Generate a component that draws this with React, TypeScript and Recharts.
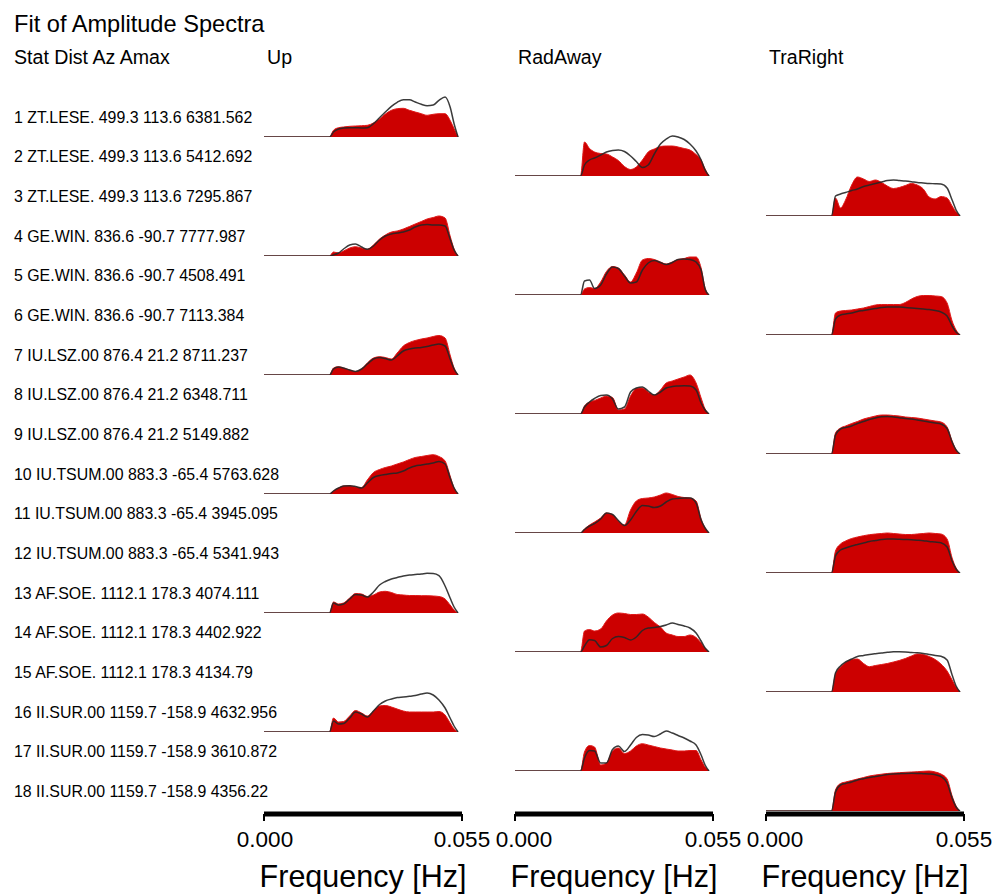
import React from 'react'
import { ComposedChart, Area, Line, XAxis, YAxis } from 'recharts'

const FONT = '"Liberation Sans", Arial, Helvetica, sans-serif'

// frequency grid (Hz) shared by every spectrum
const FREQS = [0, 0.0182, 0.0193, 0.0207, 0.0221, 0.0238, 0.0254, 0.0271, 0.0287, 0.0304, 0.0321, 0.0337, 0.0354,
    0.037, 0.0387, 0.0404, 0.042, 0.0437, 0.0453, 0.047, 0.0486, 0.0503, 0.0517, 0.0528, 0.0539]

const X_TICKS = [0, 0.055]
const COMPONENTS = ['Up', 'RadAway', 'TraRight']

const STATIONS = [
    '1 ZT.LESE. 499.3 113.6 6381.562',
    '2 ZT.LESE. 499.3 113.6 5412.692',
    '3 ZT.LESE. 499.3 113.6 7295.867',
    '4 GE.WIN. 836.6 -90.7 7777.987',
    '5 GE.WIN. 836.6 -90.7 4508.491',
    '6 GE.WIN. 836.6 -90.7 7113.384',
    '7 IU.LSZ.00 876.4 21.2 8711.237',
    '8 IU.LSZ.00 876.4 21.2 6348.711',
    '9 IU.LSZ.00 876.4 21.2 5149.882',
    '10 IU.TSUM.00 883.3 -65.4 5763.628',
    '11 IU.TSUM.00 883.3 -65.4 3945.095',
    '12 IU.TSUM.00 883.3 -65.4 5341.943',
    '13 AF.SOE. 1112.1 178.3 4074.111',
    '14 AF.SOE. 1112.1 178.3 4402.922',
    '15 AF.SOE. 1112.1 178.3 4134.79',
    '16 II.SUR.00 1159.7 -158.9 4632.956',
    '17 II.SUR.00 1159.7 -158.9 3610.872',
    '18 II.SUR.00 1159.7 -158.9 4356.22',
]

// observed (red) and synthetic (black) amplitudes, relative units
const obs01 = [0, 0, 6.7, 9.3, 10, 10.7, 11, 11.3, 11.7, 14, 18, 23, 26.7, 28.3, 28.7, 26.7, 25, 23.3, 21.7, 22.7, 23.3, 23.3, 16.7, 8.3, 0]
const syn01 = [0, 0, 5, 8, 9, 9.3, 9.3, 9, 9.3, 13.3, 19.3, 25, 30.7, 34.7, 37.3, 37.3, 35, 32.7, 31.3, 32, 36.7, 40, 30, 13.3, 0]
const obs02 = [0, 0, 34, 27.5, 24, 22.5, 22, 19, 15.5, 9.5, 6.5, 9, 16, 24, 27, 29.5, 30, 30, 29, 27.5, 26, 21.5, 16, 7, 0]
const syn02 = [0, 0, 11, 16, 18, 21, 24, 25.5, 26, 24.5, 20, 14.5, 8.5, 11, 22, 32, 37, 40, 39, 36.5, 32, 25, 16, 6, 0]
const obs03 = [0, 0, 18, 8, 16, 31, 39, 37, 34.5, 36, 33.5, 30, 27.5, 28.5, 30.5, 32.5, 31, 27, 19, 17, 19.5, 18, 10, 4, 0]
const syn03 = [0, 0, 20, 22, 23.5, 25.5, 27, 29.5, 31, 32.5, 34, 35.5, 36, 35.5, 35, 34.3, 33.5, 33, 32.5, 32.3, 32, 28, 16, 6, 0]
const obs04 = [0, 0, 4, 3, 5, 8, 9.3, 8, 6.7, 11, 17, 21, 24, 25, 27, 29.5, 32, 34.5, 37, 38.5, 40, 38, 20, 7, 0]
const syn04 = [0, 0, 1, 3, 7, 11, 12, 9, 6.7, 10, 16, 20, 22, 23, 24, 26, 29, 31, 31.5, 31, 31, 30, 17, 6, 0]
const obs05 = [0, 0, 6, 7.5, 6.5, 13, 23.5, 28.5, 27, 20, 13, 22, 35, 36.5, 35.5, 33, 31, 33, 35.5, 36.5, 38, 38, 27, 7, 0]
const syn05 = [0, 0, 14, 15, 6.5, 10, 21, 28, 26.5, 19, 12, 13, 25, 32, 34.5, 32.5, 30.5, 32.5, 35.5, 36, 35.5, 33, 25, 6, 0]
const obs06 = [0, 0, 22, 24, 24.5, 25, 26, 27, 28.5, 30, 30.5, 30.5, 30.5, 30.5, 32.5, 36, 38.5, 39.5, 39.5, 39, 38.5, 32, 14, 5, 0]
const syn06 = [0, 0, 16, 20, 21, 22, 23.5, 24.5, 25.5, 26.5, 27.5, 28, 28, 28, 27.5, 27, 26.5, 26, 25.5, 24.5, 23, 19, 9, 3, 0]
const obs07 = [0, 0, 7, 8.3, 7, 5, 3.5, 6, 12, 17, 18.3, 17.5, 16, 22, 29, 32.5, 34.5, 36, 37, 38.5, 39.5, 37, 20, 7, 0]
const syn07 = [0, 0, 6, 8, 7, 5, 3.5, 6, 11, 16, 17.5, 16.5, 15, 19, 24, 26, 27, 27.5, 28.5, 30, 31, 29, 16, 6, 0]
const obs08 = [0, 0, 8, 12, 13.5, 16, 18, 16.5, 4, 5, 18, 25.5, 26, 22, 19, 24, 31, 33, 35, 37, 39, 31, 16, 5, 0]
const syn08 = [0, 0, 7, 12, 15.5, 18.5, 19, 15, 5, 7, 22, 26, 27, 23, 19, 22, 26, 27.5, 28, 28.3, 28, 24, 11, 4, 0]
const obs09 = [0, 0, 21, 26, 28, 30.5, 32.5, 35, 36.5, 38, 39, 39, 38.5, 38, 37, 36.5, 36, 35, 34, 33, 32, 27, 13, 4, 0]
const syn09 = [0, 0, 19, 25, 26.5, 28, 30.5, 32.5, 34.5, 36, 37.3, 37.5, 37, 36.3, 35.5, 35, 34, 33, 32, 31, 30, 25.5, 12, 4, 0]
const obs10 = [0, 0, 3, 6, 8, 8.3, 7, 6.5, 14, 21.5, 24.5, 26.5, 28, 30, 32, 34.5, 36.5, 37.5, 38.5, 39.3, 37.5, 33, 18, 6, 0]
const syn10 = [0, 0, 3, 6, 8, 8.3, 7.5, 6, 11, 16.5, 18.5, 19.5, 20.5, 21, 23, 26, 28, 29, 30, 31, 32.5, 30, 16, 6, 0]
const obs11 = [0, 0, 4, 8, 11, 15, 20, 18.5, 12, 8, 23, 32, 34.5, 35, 36, 38, 40, 38.5, 36.5, 35.5, 35, 32, 14, 5, 0]
const syn11 = [0, 0, 3.5, 7, 9.5, 14, 20, 18.5, 12.5, 7.5, 13, 21.5, 27.5, 27, 25.5, 27, 31, 34, 34.5, 35, 35, 30, 13, 5, 0]
const obs12 = [0, 0, 22, 29, 32, 34.5, 36, 37.3, 38.3, 39, 39.5, 40, 39.5, 39, 38.5, 38.5, 39, 39.5, 40, 39.5, 39, 34, 15, 5, 0]
const syn12 = [0, 0, 17, 23, 25, 27, 28.5, 30, 31.5, 32.5, 33.5, 34, 34, 33.8, 33.5, 33.2, 32.8, 32.3, 31.5, 31, 30.3, 26, 12, 4, 0]
const obs13 = [0, 0, 11, 9, 10, 15, 19.5, 19, 16.5, 18, 21, 21.7, 20.5, 18.5, 18, 17.5, 17.5, 17.3, 17.3, 17, 16.5, 14, 8, 3, 0]
const syn13 = [0, 0, 10, 8, 9, 14, 18.5, 18, 16, 21, 28, 31.5, 34, 35.5, 37, 38, 38.5, 39, 39.7, 39.5, 37.3, 27, 15, 6, 0]
const obs14 = [0, 0, 21, 22.5, 21, 23, 31, 37, 39, 38.5, 37.5, 37.5, 38, 35, 29.5, 25, 19, 17, 15.5, 15.5, 17, 14.5, 9, 3.5, 0]
const syn14 = [0, 0, 6, 12.3, 11.5, 5, 6.5, 13.5, 15.5, 14.5, 12, 15, 21.5, 24, 24.5, 25.5, 27, 29, 27.5, 26, 24, 19, 11, 4, 0]
const obs15 = [0, 0, 18, 25, 29.5, 32.5, 33, 28.5, 25.3, 26.5, 27.5, 28.5, 30, 31.5, 33.5, 36, 38, 37.5, 35.5, 32.5, 28, 21, 12, 5, 0]
const syn15 = [0, 0, 19, 26, 30, 33, 35.5, 36.5, 37.5, 38.3, 39, 39.7, 40.2, 40.2, 40, 39.5, 39.2, 38.5, 37.5, 36.5, 35.7, 32, 17, 6, 0]
const obs16 = [0, 0, 14, 10, 10.5, 16, 21.5, 19, 16, 21, 26, 26.5, 25, 23, 21, 20, 20, 20, 20, 20, 20.5, 17, 9, 3, 0]
const syn16 = [0, 0, 11, 8, 8.5, 14, 20, 18, 15, 21, 27.5, 31, 33, 34.5, 35, 35.7, 36.5, 38, 39, 37, 32, 24, 14, 6, 0]
const obs17 = [0, 0, 19, 25.5, 24, 6, 8, 20, 23, 17.5, 20, 25, 27.3, 26, 24.5, 23, 22, 21, 20, 20, 20.5, 20.5, 11, 4, 0]
const syn17 = [0, 0, 13, 20.5, 20, 8, 8, 21.5, 25, 19.5, 26, 33.5, 36.5, 36, 34.5, 37, 40, 38, 35.5, 33, 30, 26, 16, 6, 0]
const obs18 = [0, 0, 21, 27.5, 29, 30.5, 32, 33.5, 35, 36, 36.8, 37.5, 38, 38.3, 38.7, 39, 39.3, 39.7, 40, 39, 37, 32, 15, 5, 0]
const syn18 = [0, 0, 19, 26, 27.5, 29, 31, 32.3, 33.5, 34.5, 35.5, 36.5, 37, 37.3, 37.6, 37.7, 37.6, 37.3, 37, 36.3, 34.5, 28, 13, 4, 0]

const SPECTRA = [
    [obs01, syn01], [obs02, syn02], [obs03, syn03], [obs04, syn04], [obs05, syn05], [obs06, syn06],
    [obs07, syn07], [obs08, syn08], [obs09, syn09], [obs10, syn10], [obs11, syn11], [obs12, syn12],
    [obs13, syn13], [obs14, syn14], [obs15, syn15], [obs16, syn16], [obs17, syn17], [obs18, syn18],
]

const COL_LEFT = [264, 515, 766]
const PLOT_W = 198
const ROW_STEP = 39.67
const FIRST_BASE = 136.7
const FIRST_LABEL = 122.5

function Spectrum({ obs, syn, left, baseline }: { obs: number[]; syn: number[]; left: number; baseline: number }) {
    const data = FREQS.map((f, i) => ({ f, obs: obs[i], syn: syn[i] }))
    return (
        <div style={{ position: 'absolute', left, top: baseline - 46 }}>
            <ComposedChart width={PLOT_W} height={48} data={data} margin={{ top: 2, right: 0, bottom: 2, left: 0 }}>
                <XAxis dataKey="f" type="number" domain={[0, 0.055]} hide />
                <YAxis domain={[0, 44]} hide allowDataOverflow />
                <Area
                    type="monotone"
                    dataKey="obs"
                    fill="#cc0000"
                    fillOpacity={1}
                    stroke="#e01818"
                    strokeWidth={1}
                    dot={false}
                    activeDot={false}
                    isAnimationActive={false}
                />
                <Line
                    type="monotone"
                    dataKey="syn"
                    stroke="#262626"
                    strokeOpacity={0.9}
                    strokeWidth={1.5}
                    dot={false}
                    activeDot={false}
                    isAnimationActive={false}
                />
            </ComposedChart>
        </div>
    )
}

// the left tick label of the 2nd and 3rd panel is nudged right, as in the original
function FreqTick({ x, y, payload, shift }: any) {
    const dx = payload.value === 0 ? shift : 0
    return (
        <text x={x + dx} y={y} dy="0.71em" textAnchor="middle" fontSize={22.5} fontFamily={FONT} fill="#000">
            {Number(payload.value).toFixed(3)}
        </text>
    )
}

function FreqAxis({ left, shift }: { left: number; shift: number }) {
    const data = X_TICKS.map((f) => ({ f }))
    return (
        <div style={{ position: 'absolute', left: left - 40, top: 790 }}>
            <ComposedChart width={PLOT_W + 80} height={104} data={data} margin={{ top: 4, right: 40, bottom: 0, left: 40 }}>
                <XAxis
                    dataKey="f"
                    type="number"
                    domain={[0, 0.055]}
                    ticks={X_TICKS}
                    interval={0}
                    height={80}
                    axisLine={{ stroke: '#000', strokeWidth: 5 }}
                    tickLine={{ stroke: '#000', strokeWidth: 2 }}
                    tickSize={7}
                    tickMargin={10}
                    tick={(p: any) => <FreqTick {...p} shift={shift} />}
                    label={{ value: 'Frequency [Hz]', position: 'insideBottom', offset: 7, fill: '#000', fontSize: 30.5, fontFamily: FONT }}
                />
            </ComposedChart>
        </div>
    )
}

export default function App() {
    return (
        <div style={{ position: 'absolute', left: 0, top: 0, width: 1005, height: 895, background: '#fff', overflow: 'hidden' }}>
            <svg width={1005} height={895} style={{ position: 'absolute', left: 0, top: 0 }} fontFamily={FONT} fill="#000">
                <text x={14} y={31.5} fontSize={23.6}>Fit of Amplitude Spectra</text>
                <text x={14} y={63.5} fontSize={19.6}>Stat Dist Az Amax</text>
                {COMPONENTS.map((c, i) => (
                    <text key={c} x={COL_LEFT[i] + 3} y={63.5} fontSize={19.6}>{c}</text>
                ))}
                {STATIONS.map((s, i) => (
                    <text key={s} x={14} y={FIRST_LABEL + i * ROW_STEP} fontSize={15.9}>{s}</text>
                ))}
            </svg>
            {COL_LEFT.map((left, i) => (
                <FreqAxis key={left} left={left} shift={i === 0 ? 1 : 9} />
            ))}
            {SPECTRA.map(([obs, syn], i) => (
                <Spectrum key={i} obs={obs} syn={syn} left={COL_LEFT[i % 3]} baseline={FIRST_BASE + i * ROW_STEP} />
            ))}
        </div>
    )
}
